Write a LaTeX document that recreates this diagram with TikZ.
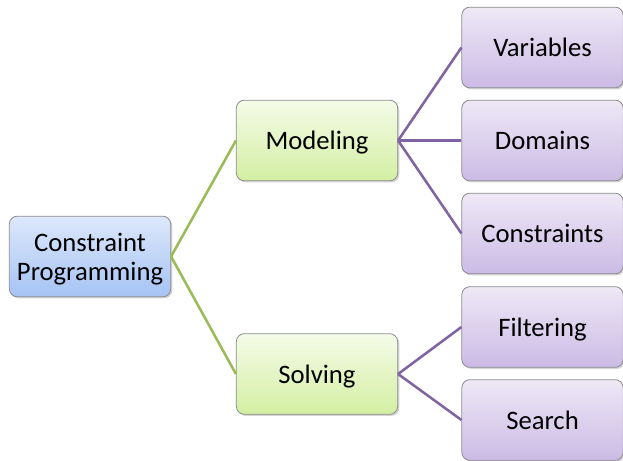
\documentclass[tikz,border=0pt]{standalone}
\usepackage{fontspec}
\setmainfont{Carlito}
\usepackage{xcolor}
\usepackage{tikz}
\usetikzlibrary{shadows}

\definecolor{rootTop}{HTML}{DDE8FB}
\definecolor{rootBot}{HTML}{A5C3F4}
\definecolor{midTop}{HTML}{F5FBE8}
\definecolor{midBot}{HTML}{D3EFA2}
\definecolor{leafTop}{HTML}{EEE8F6}
\definecolor{leafBot}{HTML}{CBBBE5}
\definecolor{greenLine}{HTML}{9BBB59}
\definecolor{purpleLine}{HTML}{8064A2}

\tikzset{
  box/.style={draw=black!45, line width=0.6pt, rounded corners=6pt,
    minimum width=121pt, minimum height=60.5pt, align=center,
    text depth=0pt,
    font=\fontsize{20}{23.5}\selectfont,
    drop shadow={shadow xshift=1.2pt, shadow yshift=-1.2pt, opacity=0.35}},
  rootbox/.style={box, top color=rootTop, bottom color=rootBot},
  midbox/.style={box, top color=midTop, bottom color=midBot},
  leafbox/.style={box, top color=leafTop, bottom color=leafBot},
  greenlink/.style={draw=greenLine, line width=1.9pt},
  purplelink/.style={draw=purpleLine, line width=1.9pt}
}

\begin{document}
\begin{tikzpicture}[x=0.75pt, y=-0.75pt]
    \useasboundingbox (0,0) rectangle (623,460);

    % Wurzel
    \node[rootbox] (cp) at (90,256.5) {Constraint\\[-2pt]Programming};

    % zweite Ebene
    \node[midbox] (modeling) at (317,140.5) {Modeling};
    \node[midbox] (solving) at (317,374) {Solving};

    % Blaetter
    \node[leafbox] (variables) at (542.5,47.5) {Variables};
    \node[leafbox] (domains) at (542.5,140.5) {Domains};
    \node[leafbox] (constraints) at (542.5,233.5) {Constraints};
    \node[leafbox] (filtering) at (542.5,327) {Filtering};
    \node[leafbox] (search) at (542.5,420) {Search};

    % Verbindungen
    \draw[greenlink] (cp.east) -- (modeling.west);
    \draw[greenlink] (cp.east) -- (solving.west);
    \foreach \leaf in {variables, domains, constraints}
        \draw[purplelink] (modeling.east) -- (\leaf.west);
    \foreach \leaf in {filtering, search}
        \draw[purplelink] (solving.east) -- (\leaf.west);
\end{tikzpicture}
\end{document}
